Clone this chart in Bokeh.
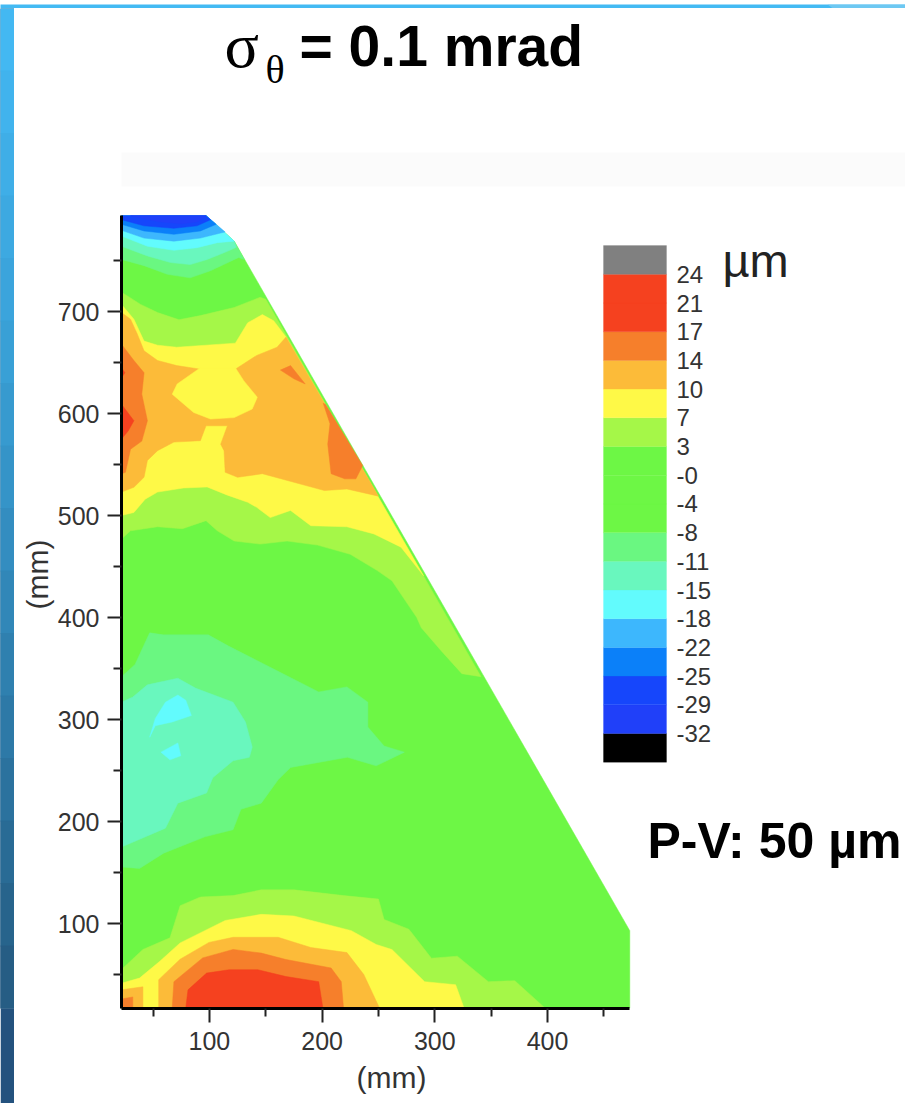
from bokeh.plotting import figure
from bokeh.layouts import column, row
from bokeh.models import Range1d, LinearAxis, FixedTicker, Label, BoxAnnotation, Title
from bokeh.core.properties import value
from bokeh.embed import file_html
from bokeh.resources import INLINE

# palette
GREEN = "#6DF745"; LIME = "#A5F748"; YELLOW = "#FEF947"; AMBER = "#FCBB39"
ORANGE = "#F67F2B"; RED = "#F5411F"; LGREEN = "#6AF781"; TEAL = "#69F7BE"
CYAN = "#62FBFD"; SKY = "#3DB7FD"; BLUE = "#0B80F9"; DBLUE = "#1646FB"; DDBLUE = "#2040F9"

# axis ticks
x_major = [100, 200, 300, 400]
x_minor = [50, 150, 250, 350, 450]
y_major = [100, 200, 300, 400, 500, 600, 700]
y_minor = [50, 150, 250, 350, 450, 550, 650, 750]

# colour scale
scale_labels = ["-32", "-29", "-25", "-22", "-18", "-15", "-11", "-8", "-4", "-0", "3", "7", "10", "14", "17", "21", "24"]
scale_colors = ["#000000", DDBLUE, DBLUE, BLUE, SKY, CYAN, TEAL, LGREEN, GREEN, GREEN, GREEN,
                LIME, YELLOW, AMBER, ORANGE, RED, RED, "#808080"]

# measured map outline (mm)
outline_x = [22, 97, 122, 473, 473, 22]
outline_y = [794, 794, 769, 93, 17, 17]

# top of map: cold bands
top_lgreen_x = [22, 42, 62.6, 83, 101, 126, 131, 122, 97, 22]
top_lgreen_y = [751, 745, 736.5, 733, 740, 753, 751, 769, 794, 794]
top_teal_x = [22, 45, 65.5, 83, 98, 116, 124, 122, 97, 22]
top_teal_y = [764, 754.5, 748, 746, 751, 759, 763, 769, 794, 794]
top_cyan_x = [22, 45, 68.5, 89, 107, 122, 97, 22]
top_cyan_y = [774, 764, 760, 762.6, 767.5, 769, 794, 794]
top_sky_x = [22, 42, 68.5, 92, 110, 114, 97, 22]
top_sky_y = [779.6, 772, 769, 772, 777, 778, 794, 794]
top_blue_x = [22, 42, 68.5, 92, 106, 97, 22]
top_blue_y = [785.5, 779, 775.7, 779, 785.5, 794, 794]
top_dblue_x = [22, 42, 68.5, 89, 101, 97, 22]
top_dblue_y = [790, 784, 781.6, 784, 790, 794, 794]
top_ddblue_x = [30, 55, 75, 90, 97]
top_ddblue_y = [794, 788, 786, 788, 794]

# upper warm mass
up_lime_x = [22, 39, 54, 73, 92, 122, 145, 150, 341, 324, 306, 288, 284, 262, 249, 225, 196, 169, 145, 122, 107, 97, 76, 54, 30, 22]
up_lime_y = [719, 707, 699, 692, 696, 704, 714, 712, 342, 345, 367, 390, 400, 436, 446, 462, 471, 475, 472, 475, 485, 495, 487, 489, 485, 477]
up_yellow_x = [22, 33, 42, 54, 71, 123, 134, 147, 157, 168, 290, 270, 246, 222, 190, 172, 154, 142, 134, 116, 98, 77, 54, 43, 33, 22]
up_yellow_y = [707, 692.5, 671, 667, 665, 669, 689, 697, 691, 675, 441, 469, 482, 489, 490, 505, 498, 508, 513, 520, 528, 527, 523, 516, 503, 500]
up_amber_x = [22, 30, 36, 42, 54, 71, 92, 123, 142, 160, 168, 250, 222, 202, 175, 147, 125, 114, 113, 110, 116, 97, 92, 68.5, 54, 45, 42, 33, 22]
up_amber_y = [699, 692.5, 678, 661.5, 652, 647, 643.5, 643.5, 657, 665, 675, 519, 526, 524.5, 532.6, 541, 537.5, 542.4, 563.6, 570, 588, 588, 573.4, 572, 563.6, 554, 537.5, 527.7, 523]
up_blob_x = [67, 71.4, 92, 123, 130.6, 142.5, 138, 122, 101, 86]
up_blob_y = [619, 629, 645, 645, 632, 616, 604.4, 596, 594.6, 601]
up_orange_l_x = [22, 33, 42, 40, 45, 40, 30, 25.5, 22]
up_orange_l_y = [668, 652, 640, 619, 593, 573, 565, 542.4, 541]
up_orange_m_x = [163, 172, 185, 175]
up_orange_m_y = [642.6, 647, 629, 634]
up_orange_r_x = [201, 207, 205, 208, 220, 230, 236, 203]
up_orange_r_y = [610, 590, 570, 541, 536, 536, 549, 609]
up_red_a_x = [22, 33, 28, 22]
up_red_a_y = [609, 593, 583, 575]
up_red_b_x = [22, 25, 22]
up_red_b_y = [645, 640, 635]

# middle cold lobe
mid_lgreen_x = [22, 34, 47, 59, 99, 117, 197, 222, 240.6, 240.6, 255, 273, 248, 222.5, 172, 161, 146, 128, 121, 96, 59.4, 38, 22]
mid_lgreen_y = [342, 354, 385, 383, 383, 372, 327, 332, 317, 292.6, 274, 268, 254.6, 263, 253, 241, 218, 212, 192, 185, 169, 154, 155.5]
mid_teal_x = [22, 32, 45, 72, 88, 121, 132, 138, 135.5, 121, 103, 97.5, 72, 61, 22]
mid_teal_y = [317, 322, 334, 340.5, 330.6, 317, 297.6, 273, 263, 259.6, 243, 228, 218, 193.5, 175]
mid_cyan_a_x = [47, 52, 61, 72, 79, 84, 67, 52]
mid_cyan_a_y = [282.7, 301, 317, 324, 319, 304, 297.6, 294]
mid_cyan_b_x = [57, 72, 74.6, 65]
mid_cyan_b_y = [268, 277, 264.5, 260.5]

# bottom warm dome
low_lime_x = [22, 41, 65, 74, 92, 121, 146, 175, 219, 250, 255, 277, 297, 320, 347.5, 371, 398, 22]
low_lime_y = [55, 74.6, 86, 117.5, 126, 127.4, 133, 133, 127.4, 124, 104, 94.4, 66, 68, 43, 44, 17, 17]
low_yellow_x = [22, 38, 56, 74, 114, 146, 175, 226, 248, 262, 291, 318.5, 326, 22]
low_yellow_y = [41.5, 46.5, 63, 81, 103, 109, 107.4, 93, 79.5, 74.5, 43, 40, 17, 17]
low_corner_x = [22, 41, 41, 22]
low_corner_y = [35, 38, 17, 17]
low_corner2_x = [22, 32, 32, 22]
low_corner2_y = [26, 28, 17, 17]
low_amber_x = [55, 55, 74, 99.6, 121, 161, 190, 222, 237, 251]
low_amber_y = [17, 45, 65, 81.5, 86.5, 86.5, 76.5, 71.5, 50, 17]
low_orange_x = [67, 68.5, 94, 121, 146, 168, 208, 217, 219]
low_orange_y = [17, 43, 66.3, 74.6, 71, 64.7, 56.4, 43, 17]
low_red_x = [79, 81, 97.5, 117.4, 143, 168, 197, 200.7]
low_red_y = [17, 35, 51.4, 54.7, 54.7, 48, 43, 17]

# slide-edge decoration
strip_colors = ["#43B8F2", "#41B3ED", "#3FAEE7", "#3DA9E1", "#3BA4DC", "#39A0D6", "#379ACF", "#3594C8",
                "#338DC0", "#3187B8", "#2F80AF", "#2D79A7", "#2B729E", "#296B95", "#27648C", "#265D84"]
strip_bottom_color = "#24527E"
top_color = "#43BAF3"
top_light_color = "#6DC8F2"

TOTAL_W, TOTAL_H = 905, 1103
STRIP_W, STRIP_H = 14, 8
W, H = TOTAL_W - STRIP_W, TOTAL_H - STRIP_H
L, B = 121 - STRIP_W, 95

top_bar = figure(width=TOTAL_W, height=STRIP_H, output_backend="svg", toolbar_location=None,
                 x_range=Range1d(0, TOTAL_W), y_range=Range1d(0, STRIP_H), x_axis_type=None, y_axis_type=None,
                 min_border=0, outline_line_color=None, background_fill_color=top_color, border_fill_color=top_color)
top_bar.grid.visible = False
top_bar.patch([827, 905, 905, 838], [8, 8, 0, 0], fill_color=top_light_color, line_color=None)

left_bar = figure(width=STRIP_W, height=H, output_backend="svg", toolbar_location=None,
                  x_range=Range1d(0, 1), y_range=Range1d(len(strip_colors), 0), x_axis_type=None, y_axis_type=None,
                  min_border=0, outline_line_color=None, background_fill_color=strip_bottom_color,
                  border_fill_color=strip_bottom_color)
left_bar.grid.visible = False
m = len(strip_colors)
left_bar.quad(left=[0] * m, right=[1] * m, top=list(range(m)), bottom=list(range(1, m + 1)),
              fill_color=strip_colors, line_color=strip_colors)

p = figure(width=W, height=H, output_backend="svg", toolbar_location=None,
           x_range=Range1d(22, 22 + (W - L) / 1.127), y_range=Range1d(16.7, 16.7 + (H - B) / 1.02),
           x_axis_type=None, y_axis_type=None,
           min_border_left=L, min_border_bottom=B, min_border_top=0, min_border_right=0,
           outline_line_color=None, background_fill_color="white", border_fill_color="white")
p.grid.visible = False

# colour-scale coordinates
p.extra_x_ranges["cb"] = Range1d((121 - 603) / 63, (905 - 603) / 63)
p.extra_y_ranges["cb"] = Range1d((761.7 - 1008) / 28.7, (761.7 - 8) / 28.7)

layers = [
    (outline_x, outline_y, GREEN),
    (top_lgreen_x, top_lgreen_y, LGREEN), (top_teal_x, top_teal_y, TEAL), (top_cyan_x, top_cyan_y, CYAN),
    (top_sky_x, top_sky_y, SKY), (top_blue_x, top_blue_y, BLUE), (top_dblue_x, top_dblue_y, DBLUE),
    (top_ddblue_x, top_ddblue_y, DDBLUE),
    (up_lime_x, up_lime_y, LIME), (up_yellow_x, up_yellow_y, YELLOW), (up_amber_x, up_amber_y, AMBER),
    (up_blob_x, up_blob_y, YELLOW), (up_orange_l_x, up_orange_l_y, ORANGE), (up_orange_m_x, up_orange_m_y, ORANGE),
    (up_orange_r_x, up_orange_r_y, ORANGE), (up_red_a_x, up_red_a_y, RED), (up_red_b_x, up_red_b_y, RED),
    (mid_lgreen_x, mid_lgreen_y, LGREEN), (mid_teal_x, mid_teal_y, TEAL),
    (mid_cyan_a_x, mid_cyan_a_y, CYAN), (mid_cyan_b_x, mid_cyan_b_y, CYAN),
    (low_lime_x, low_lime_y, LIME), (low_yellow_x, low_yellow_y, YELLOW), (low_corner_x, low_corner_y, AMBER),
    (low_corner2_x, low_corner2_y, ORANGE), (low_amber_x, low_amber_y, AMBER), (low_orange_x, low_orange_y, ORANGE),
    (low_red_x, low_red_y, RED),
]
for xs, ys, c in layers:
    p.patch(xs, ys, fill_color=c, line_color=c, line_width=0.5)

# colour scale
n = len(scale_colors)
p.quad(left=[0] * n, right=[1] * n, bottom=list(range(n)), top=list(range(1, n + 1)),
       fill_color=scale_colors, line_color=scale_colors, line_width=0.3,
       x_range_name="cb", y_range_name="cb")
p.text(x=[1] * len(scale_labels), y=list(range(1, len(scale_labels) + 1)), text=scale_labels,
       x_offset=10, text_baseline="middle", text_align="left", text_font=value("Liberation Sans"),
       text_font_size="24px", text_color="#333333", x_range_name="cb", y_range_name="cb")

def axis(side, major, minor, bounds, standoff):
    a = LinearAxis(ticker=FixedTicker(ticks=major, minor_ticks=minor), bounds=bounds,
                   axis_line_color="black", axis_line_width=3,
                   major_tick_line_color="#222222", major_tick_line_width=2, major_tick_in=0, major_tick_out=14,
                   minor_tick_line_color="#222222", minor_tick_line_width=2, minor_tick_in=0, minor_tick_out=8,
                   major_label_text_font="Liberation Sans", major_label_text_font_size="25px",
                   major_label_text_color="#333333", major_label_standoff=standoff)
    p.add_layout(a, side)
axis("below", x_major, x_minor, (22, 473), 9)
axis("left", y_major, y_minor, (16.7, 794), 8)

# axis titles live in the side panels, beyond the frame
p.add_layout(Title(text="(mm)", align="left", offset=270 - 35, text_font="Liberation Sans", text_font_size="30px",
                   text_font_style="normal", text_color="#333333", standoff=13), "below")
p.add_layout(Title(text="(mm)", align="left", offset=1008 - 574 - 35, text_font="Liberation Sans", text_font_size="30px",
                   text_font_style="normal", text_color="#333333", standoff=2), "left")

def label(px, py, text, size, font="Liberation Sans", style="normal", color="#000000", baseline="middle"):
    p.add_layout(Label(x=px - 121, y=1008 - py, x_units="screen", y_units="screen", text=text,
                       text_font=font, text_font_size=size, text_font_style=style, text_color=color,
                       text_align="left", text_baseline=baseline))

label(224, 45, "σ", "64px", font="Liberation Serif", baseline="alphabetic")
label(265, 69, "θ", "40px", font="Liberation Serif")
label(299, 45, "= 0.1 mrad", "57px", style="bold")
label(722, 260, "µm", "47px", color="#222222")
label(647, 840, "P-V: 50 µm", "50px", style="bold")

p.add_layout(BoxAnnotation(left=-107, right=784, top=856, bottom=822, left_units="screen", right_units="screen",
                           top_units="screen", bottom_units="screen", fill_color="#FBFBFB", fill_alpha=1,
                           line_color=None, level="underlay"))

layout = column(top_bar, row(left_bar, p))
open("out.html", "w").write(file_html(layout, INLINE))
